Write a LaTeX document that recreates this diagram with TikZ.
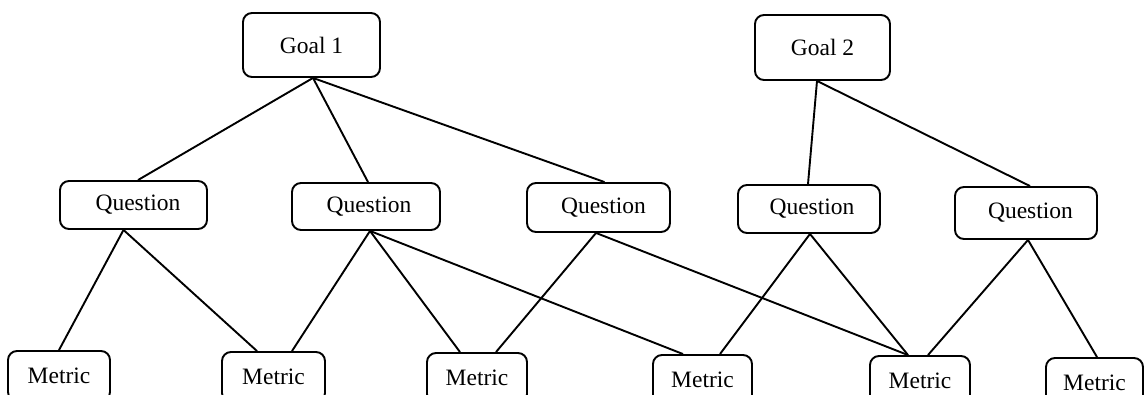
\documentclass[tikz,border=0pt]{standalone}
\usepackage{fontspec}
\setmainfont{Liberation Serif}
\begin{document}
\begin{tikzpicture}[x=1pt,y=-1pt,
  box/.style={draw, line width=1.9pt, rounded corners=9pt, inner sep=0pt,
    font=\fontsize{23.5}{28}\selectfont},
  link/.style={line width=1.9pt}]
\useasboundingbox (0,0) rectangle (1145,395);
% goals
\node[box, minimum width=137pt, minimum height=64pt] (g1) at (311.5,45) {Goal 1};
\node[box, minimum width=135pt, minimum height=65pt] (g2) at (822.5,47.5) {Goal 2};
% questions
\node[box, minimum width=147pt, minimum height=48pt] (q1) at (133.5,205) {\hspace*{9pt}\raisebox{-1pt}{Question}};
\node[box, minimum width=148pt, minimum height=47pt] (q2) at (366,206.5) {\hspace*{6pt}\raisebox{-1pt}{Question}};
\node[box, minimum width=143pt, minimum height=49pt] (q3) at (598.5,207.5) {\hspace*{10pt}\raisebox{-1pt}{Question}};
\node[box, minimum width=142pt, minimum height=48pt] (q4) at (809,209) {\hspace*{6pt}\raisebox{-1pt}{Question}};
\node[box, minimum width=142pt, minimum height=52pt] (q5) at (1026,213) {\hspace*{9pt}\raisebox{-1pt}{Question}};
% metrics
\node[box, minimum width=102pt, minimum height=50pt] (m1) at (59,376) {\raisebox{1pt}{Metric}};
\node[box, minimum width=103pt, minimum height=50pt] (m2) at (273.5,377) {\raisebox{1pt}{Metric}};
\node[box, minimum width=100pt, minimum height=50pt] (m3) at (477,378) {\raisebox{1pt}{Metric}};
\node[box, minimum width=99pt, minimum height=50pt] (m4) at (702.5,380) {\raisebox{1pt}{Metric}};
\node[box, minimum width=100pt, minimum height=50pt] (m5) at (920,381) {\raisebox{1pt}{Metric}};
\node[box, minimum width=97pt, minimum height=50pt] (m6) at (1094.5,383) {\raisebox{1pt}{Metric}};
% goal -> question
\draw[link] ([xshift=1.5pt]g1.south) -- ([xshift=4.5pt]q1.north);
\draw[link] ([xshift=1.5pt]g1.south) -- ([xshift=2pt]q2.north);
\draw[link] ([xshift=1.5pt]g1.south) -- ([xshift=6pt]q3.north);
\draw[link] ([xshift=-5.5pt]g2.south) -- ([xshift=-1pt]q4.north);
\draw[link] ([xshift=-5.5pt]g2.south) -- ([xshift=4pt]q5.north);
% question -> metric
\draw[link] ([xshift=-10pt]q1.south) -- (m1.north);
\draw[link] ([xshift=-10pt]q1.south) -- ([xshift=-16.5pt]m2.north);
\draw[link] ([xshift=4pt]q2.south) -- ([xshift=18.5pt]m2.north);
\draw[link] ([xshift=4pt]q2.south) -- ([xshift=-17pt]m3.north);
\draw[link] ([xshift=4pt]q2.south) -- ([xshift=-19.5pt]m4.north);
\draw[link] ([xshift=-2.5pt]q3.south) -- ([xshift=19pt]m3.north);
\draw[link] ([xshift=-2.5pt]q3.south) -- ([xshift=-12pt]m5.north);
\draw[link] ([xshift=1pt]q4.south) -- ([xshift=17.5pt]m4.north);
\draw[link] ([xshift=1pt]q4.south) -- ([xshift=-12pt]m5.north);
\draw[link] ([xshift=2pt]q5.south) -- ([xshift=8pt]m5.north);
\draw[link] ([xshift=2pt]q5.south) -- ([xshift=2.5pt]m6.north);
\end{tikzpicture}
\end{document}
